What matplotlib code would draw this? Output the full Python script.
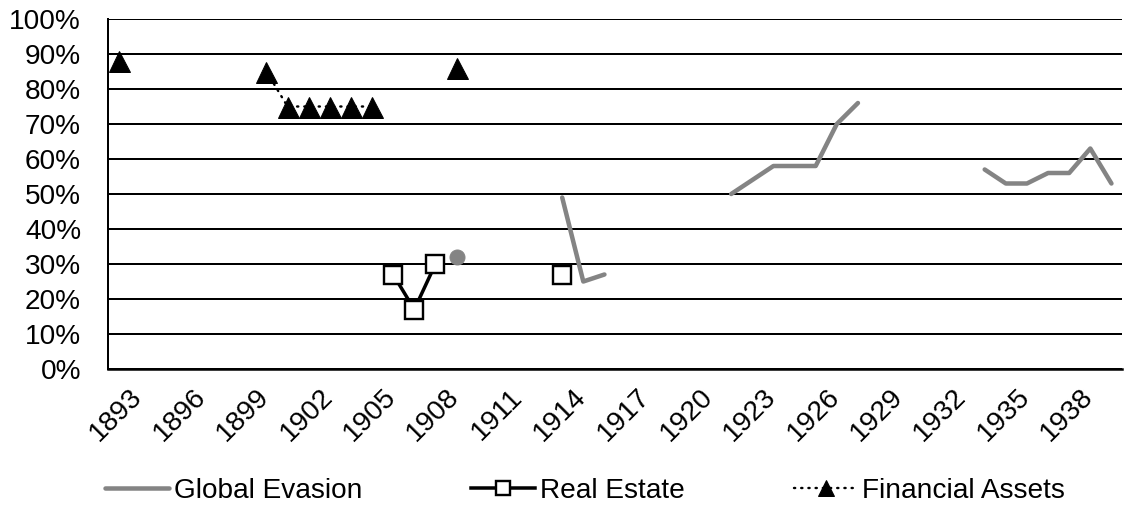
import numpy as np
import matplotlib
matplotlib.use("Agg")
import matplotlib.pyplot as plt
import matplotlib.transforms as mtransforms

# --- data (share, %) ---
years = list(range(1893, 1941))
nan = np.nan

global_evasion = {
    1909: 32,
    1914: 49, 1915: 25, 1916: 27,
    1922: 50, 1923: 54, 1924: 58, 1925: 58, 1926: 58, 1927: 70, 1928: 76,
    1934: 57, 1935: 53, 1936: 53, 1937: 56, 1938: 56, 1939: 63, 1940: 53,
}
real_estate = {1906: 27, 1907: 17, 1908: 30, 1914: 27}
financial_assets = {1893: 88, 1900: 85, 1901: 75, 1902: 75, 1903: 75,
                    1904: 75, 1905: 75, 1909: 86}

tick_years = list(range(1893, 1939, 3))


def to_series(d):
    return np.array([d.get(y, nan) for y in years], dtype=float)


def isolated(arr):
    # points with no neighbour on either side (drawn as a lone marker)
    prev = np.concatenate([[nan], arr[:-1]])
    nxt = np.concatenate([arr[1:], [nan]])
    return ~np.isnan(arr) & np.isnan(prev) & np.isnan(nxt)


def main():
    plt.rcParams['font.family'] = ['Liberation Sans', 'DejaVu Sans']
    fig = plt.figure(figsize=(1125 / 72, 512 / 72), dpi=72)
    ax = fig.add_axes([108 / 1125, 1 - 369 / 512, 1014 / 1125, 350 / 512])

    x = np.array(years)
    ge = to_series(global_evasion)
    re = to_series(real_estate)
    fa = to_series(financial_assets)

    gray = '#848484'
    ax.plot(x, ge, color=gray, lw=4.5, solid_capstyle='round',
            solid_joinstyle='round', label='Global Evasion', zorder=3)
    iso = isolated(ge)
    ax.plot(x[iso], ge[iso], 'o', color=gray, ms=15, zorder=3)

    ax.plot(x, re, color='black', lw=3.5, marker='s', ms=17.5,
            mfc='white', mec='black', mew=2.4, label='Real Estate', zorder=4)

    ax.plot(x, fa, color='black', lw=2.4, ls=(0, (0.5, 2.5)),
            dash_capstyle='round', marker='^', ms=21,
            mfc='black', mec='black', label='Financial Assets', zorder=4)

    ax.set_xlim(1892.5, 1940.5)
    ax.set_ylim(0, 100)
    ax.set_yticks(range(0, 101, 10))
    ax.set_yticklabels([f'{v}%' for v in range(0, 101, 10)])
    ax.set_xticks(tick_years)
    ax.set_xticklabels([str(t) for t in tick_years], rotation=45,
                       ha='right', va='center', rotation_mode='anchor')
    ax.tick_params(axis='both', length=0, labelsize=28)
    ax.tick_params(axis='y', pad=27)
    ax.tick_params(axis='x', pad=24)
    # nudge the slanted year labels so their ends sit by the tick
    shift = mtransforms.ScaledTranslation(20 / 72, 0, fig.dpi_scale_trans)
    for lab in ax.get_xticklabels():
        lab.set_transform(lab.get_transform() + shift)

    ax.yaxis.grid(True, color='black', lw=2)
    ax.set_axisbelow(True)
    for side in ['top', 'right']:
        ax.spines[side].set_visible(False)
    ax.spines['left'].set_linewidth(2)
    ax.spines['bottom'].set_linewidth(2.5)

    fig.legend(loc='center', bbox_to_anchor=(585 / 1125, 1 - 491 / 512),
               ncol=3, frameon=False, fontsize=28, handlelength=2.3,
               handletextpad=0.15, columnspacing=3.9, markerscale=0.75)

    fig.savefig('out.png', dpi=72)


if __name__ == "__main__":
    main()
